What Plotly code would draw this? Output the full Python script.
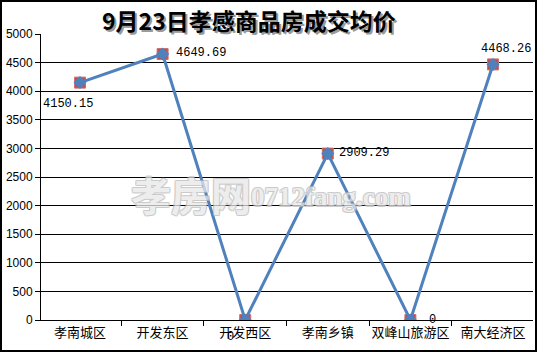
import plotly.graph_objects as go

categories = ["孝南城区", "开发东区", "开发西区", "孝南乡镇", "双峰山旅游区", "南大经济区"]
values = [4150.15, 4649.69, 0, 2909.29, 0, 4468.26]
labels = ["4150.15", "4649.69", "0", "2909.29", "0", "4468.26"]
y_ticks = [0, 500, 1000, 1500, 2000, 2500, 3000, 3500, 4000, 4500, 5000]
title = "9月23日孝感商品房成交均价"

W, H = 538, 353
L, R, T, B = 41, 5, 34, 33
PW, PH = W - L - R, H - T - B

def px(x):
    return (x - L) / PW

def py(y):
    return (H - B - y) / PH

fig = go.Figure()
fig.add_trace(go.Scatter(
    x=categories, y=values, mode="markers",
    marker=dict(symbol="square", size=11, color="#C0504D",
                line=dict(color="#D07070", width=1)),
    hoverinfo="skip", showlegend=False))
fig.add_trace(go.Scatter(
    x=categories, y=values, mode="lines+markers",
    line=dict(color="#4F81BD", width=3),
    marker=dict(symbol="diamond", size=10, color="#4F81BD"),
    showlegend=False))

# data labels (offsets in pixels)
offsets = [(-12, -21), (38, 1), (-15, -17), (36, 1), (22, 0), (13, 15)]
lab_font = dict(family="Liberation Mono, DejaVu Sans Mono, monospace", size=12, color="black")
for c, v, t, (dx, dy) in zip(categories, values, labels, offsets):
    fig.add_annotation(x=c, y=v, text=t, showarrow=False, xshift=dx, yshift=dy,
                       xanchor="center", yanchor="middle", font=lab_font)

# watermark
outline = ("1px 0 0 #b8b8b8, -1px 0 0 #b8b8b8, 0 1px 0 #b8b8b8, 0 -1px 0 #b8b8b8, "
           "1px 1px 0 #b8b8b8, -1px -1px 0 #b8b8b8, 1px -1px 0 #b8b8b8, -1px 1px 0 #b8b8b8")
fig.add_annotation(xref="paper", yref="paper", x=px(191), y=py(194), text="孝房网",
                   showarrow=False, xanchor="center", yanchor="middle", opacity=0.75,
                   font=dict(family="Noto Sans CJK SC", size=40, weight="bold",
                             color="rgba(255,255,255,0.7)", shadow=outline))
fig.add_annotation(xref="paper", yref="paper", x=px(331), y=py(197), text="0712fang.com",
                   showarrow=False, xanchor="center", yanchor="middle", opacity=0.75,
                   font=dict(family="Liberation Serif", size=27, weight="bold",
                             color="rgba(255,255,255,0.7)", shadow=outline))

# title with shadow
fig.add_annotation(xref="paper", yref="paper", x=px(249), y=py(20), text=title,
                   showarrow=False, xshift=1.5, yshift=-1.5, xanchor="center", yanchor="middle",
                   font=dict(family="Noto Sans CJK SC", size=23, color="#9a9a9a", weight="bold"))
fig.add_annotation(xref="paper", yref="paper", x=px(249), y=py(20), text=title,
                   showarrow=False, xanchor="center", yanchor="middle",
                   font=dict(family="Noto Sans CJK SC", size=23, color="black", weight="bold"))

# outer border
fig.add_shape(type="rect", xref="paper", yref="paper",
              x0=px(1), x1=px(536), y0=py(351), y1=py(1),
              line=dict(color="black", width=2), layer="above")

fig.update_layout(
    width=W, height=H,
    margin=dict(l=L, r=R, t=T, b=B, pad=0, autoexpand=False),
    paper_bgcolor="white", plot_bgcolor="white",
    showlegend=False,
    xaxis=dict(type="category", showgrid=False, showline=True, linecolor="black", linewidth=1,
               ticks="outside", ticklen=5, tickcolor="black", tickson="boundaries",
               tickangle=0, automargin=False,
               tickfont=dict(family="Noto Sans CJK SC", size=13, color="black"),
               zeroline=False, fixedrange=True),
    yaxis=dict(range=[0, 5000], tickvals=y_ticks, showgrid=True, gridcolor="black", gridwidth=1,
               showline=True, linecolor="black", linewidth=1, automargin=False,
               ticks="outside", ticklen=5, tickcolor="black",
               tickfont=dict(family="Liberation Sans", size=12, color="black"),
               zeroline=False, fixedrange=True),
)

fig.write_html("out.html")
